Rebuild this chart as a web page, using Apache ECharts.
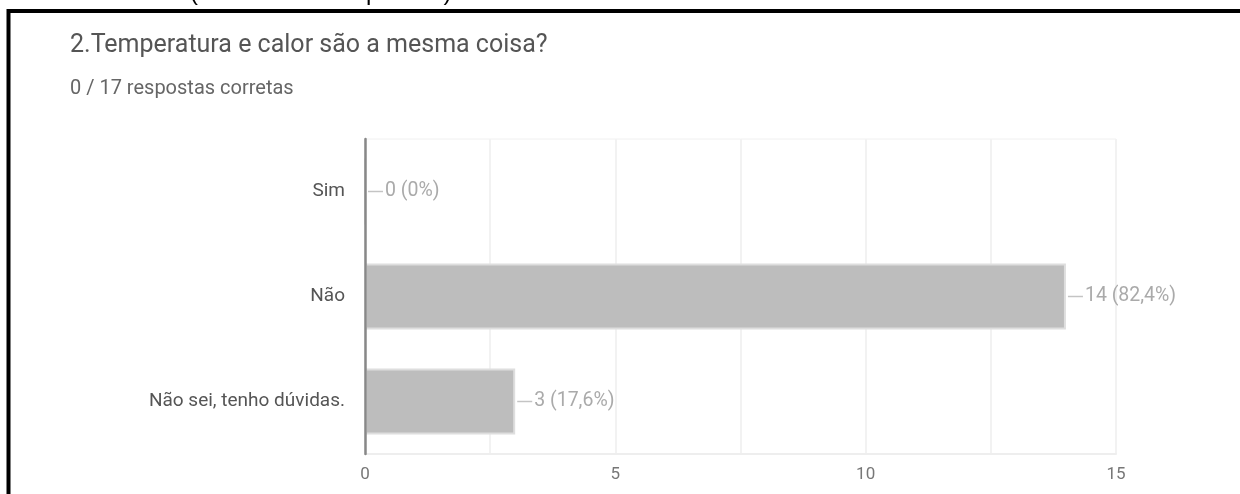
<!DOCTYPE html>
<html>
<head>
<meta charset="utf-8">
<script src="https://cdn.jsdelivr.net/npm/echarts@6/dist/echarts.min.js"></script>
<style>
	html, body { margin: 0; padding: 0; background: #fff; }
	#chart { width: 1240px; height: 494px; }
</style>
</head>
<body>
<div id="chart"></div>
<script>
var categories = ['Sim', 'Não', 'Não sei, tenho dúvidas.'];
var counts = [0, 14, 3];
var total = 17;
var xTicks = [0, 5, 10, 15];

function pct(v) {
	var p = (v / total * 100).toFixed(1);
	if (p.slice(-2) === '.0') p = p.slice(0, -2);
	return p.replace('.', ',') + '%';
}

var chart = echarts.init(document.getElementById('chart'));
var option = {
	animation: false,
	textStyle: { fontFamily: 'Roboto, Arial, sans-serif' },
	graphic: [{
		type: 'text',
		left: 190,
		top: -19,
		style: {
			text: '(conhecimentos prévios)',
			font: '24px Arial, "Liberation Sans", sans-serif',
			fill: '#000'
		}
	}, {
		type: 'rect',
		shape: { x: 8.5, y: 11, width: 1260, height: 520 },
		style: { fill: 'none', stroke: '#000', lineWidth: 4 }
	}, {
		type: 'text',
		x: 70,
		y: 46,
		style: {
			text: '2.Temperatura e calor são a mesma coisa?',
			font: '25px Roboto, Arial, sans-serif',
			fill: '#555',
			verticalAlign: 'middle'
		}
	}, {
		type: 'text',
		x: 70,
		y: 89,
		style: {
			text: '0 / 17 respostas corretas',
			font: '20px Roboto, Arial, sans-serif',
			fill: '#666',
			verticalAlign: 'middle'
		}
	}],
	grid: {
		left: 365,
		right: 124,
		top: 139,
		bottom: 40,
		show: true,
		borderColor: '#f0f0f0',
		borderWidth: 1
	},
	xAxis: {
		type: 'value',
		min: 0,
		max: 15,
		interval: 2.5,
		axisLine: { show: true, lineStyle: { color: '#eeeeee', width: 2 } },
		axisTick: { show: false },
		splitLine: { show: true, lineStyle: { color: '#f2f2f2', width: 2 } },
		axisLabel: {
			color: '#777',
			fontSize: 17,
			margin: 12,
			formatter: function(v) {
				return xTicks.indexOf(v) >= 0 ? String(v) : '';
			}
		}
	},
	yAxis: {
		type: 'category',
		inverse: true,
		z: 10,
		data: categories,
		axisLine: { show: true, lineStyle: { color: '#888', width: 2.5 } },
		axisTick: { show: false },
		axisLabel: { color: '#555', fontSize: 19, margin: 20 }
	},
	series: [{
		type: 'bar',
		data: counts,
		barWidth: 66,
		itemStyle: {
			color: '#bdbdbd',
			borderColor: '#dedede',
			borderWidth: 2
		},
		label: {
			show: true,
			position: 'right',
			distance: 2,
			formatter: function(p) {
				return '{l|}{t|' + p.value + ' (' + pct(p.value) + ')}';
			},
			rich: {
				l: { width: 15, height: 1.5, backgroundColor: '#c4c4c4' },
				t: { color: '#aaa', fontSize: 19.5, padding: [0, 0, 0, 2] }
			}
		}
	}]
};
chart.setOption(option);
</script>
</body>
</html>
